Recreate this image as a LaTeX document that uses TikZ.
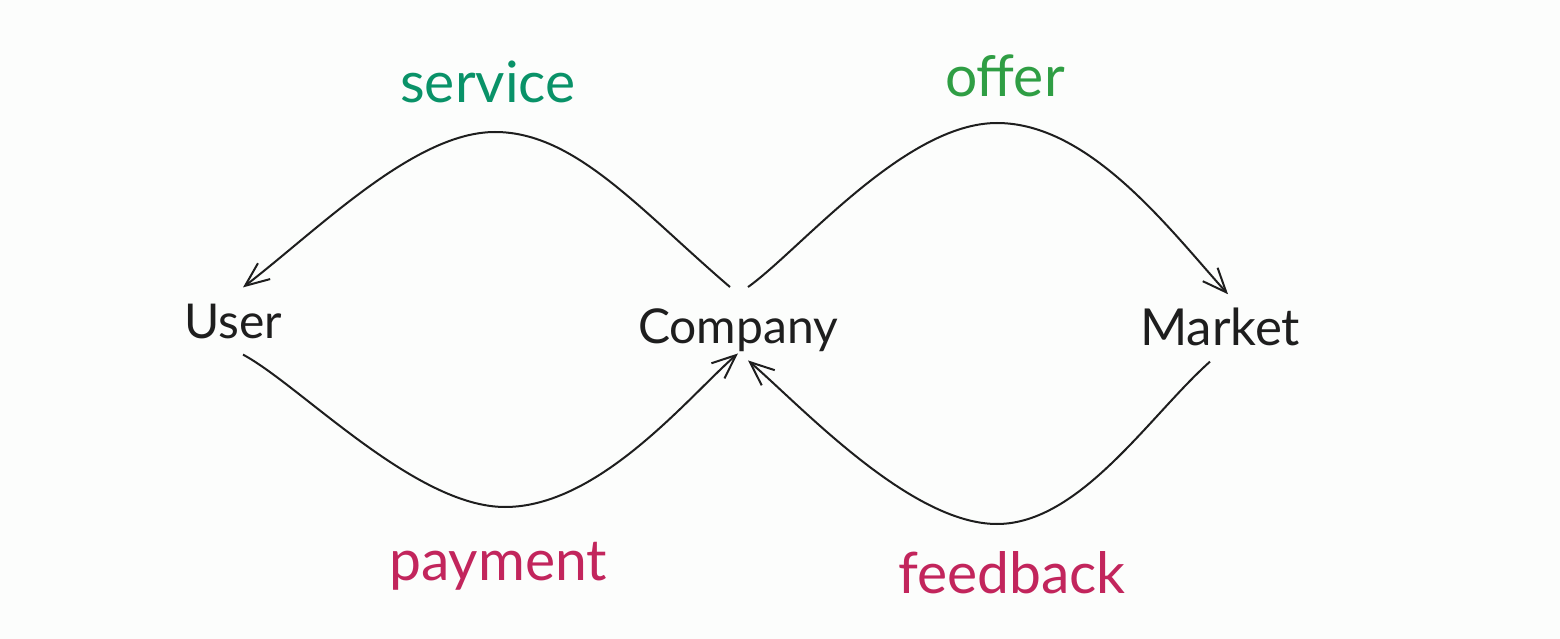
\documentclass[tikz,border=0pt]{standalone}
\usepackage{fontspec}
\setmainfont{Lato}
\usepackage{xcolor}
\usetikzlibrary{arrows.meta}
\definecolor{ink}{HTML}{1E1E1E}
\definecolor{teal}{HTML}{099268}
\definecolor{leaf}{HTML}{2F9E44}
\definecolor{rose}{HTML}{C2255C}
\definecolor{paper}{HTML}{FCFDFC}

\begin{document}
\begin{tikzpicture}[x=1pt, y=-1pt, inner sep=0pt, anchor=base,
    actor/.style={text=ink, font=\fontsize{48}{50}\selectfont},
    flow/.style={font=\fontsize{57}{60}\selectfont},
    link/.style={draw=ink, line width=2pt, -{Straight Barb[length=24pt, width=20pt]}}]
    \fill[paper] (0,0) rectangle (1560,639);
    \useasboundingbox (0,0) rectangle (1560,639);

    \node[actor]                                  (U)  at ( 233, 338)    {User};
    \node[actor]                                  (C)  at ( 738, 343)    {Company};
    \node[actor, font=\fontsize{51}{54}\selectfont] (M)  at (1220, 345)    {Market};

    \node[flow, text=teal]                        (S)  at ( 488, 103)    {service};
    \node[flow, text=leaf]                        (O)  at (1005,  97)    {offer};
    \node[flow, text=rose]                        (P)  at ( 498, 580)    {payment};
    \node[flow, text=rose]                        (F)  at (1012, 593)    {feedback};

    \draw[link] ([xshift=-8pt, yshift=21pt]C.north)
        .. controls (640,210) and (575,132) .. (495,132)
        .. controls (415,132) and (320,228) .. ([xshift=10pt, yshift=16pt]U.north);
    \draw[link] ([xshift=10pt, yshift=21pt]C.north)
        .. controls (800,250) and (905,123) .. (997,123)
        .. controls (1090,123) and (1170,230) .. ([xshift=8pt, yshift=13pt]M.north);
    \draw[link] ([xshift=10pt, yshift=-16pt]U.south)
        .. controls (300,385) and (415,507) .. (505,507)
        .. controls (600,507) and (690,395) .. ([xshift=0pt, yshift=-2pt]C.south);
    \draw[link] ([xshift=-10pt, yshift=-16pt]M.south)
        .. controls (1150,415) and (1080,524) .. (997,524)
        .. controls (910,524) and (800,405) .. ([xshift=10pt, yshift=-9pt]C.south);
\end{tikzpicture}
\end{document}
